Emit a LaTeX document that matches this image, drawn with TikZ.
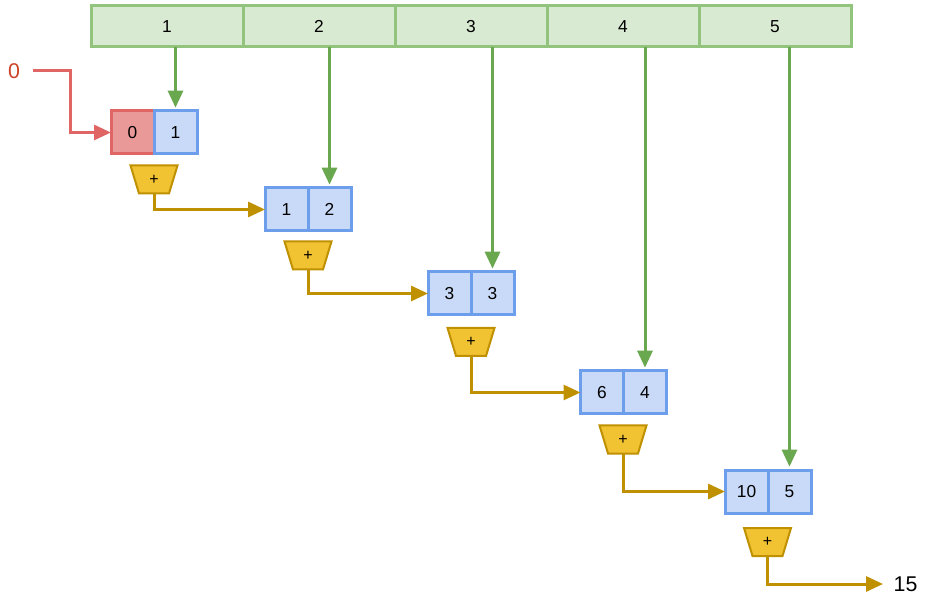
\documentclass[tikz,border=0pt]{standalone}
\usepackage{fontspec}
\setmainfont{Liberation Sans}
\usetikzlibrary{arrows.meta,shapes.geometric}

\definecolor{arrfill}{HTML}{D9EAD3}
\definecolor{arrdraw}{HTML}{93C47D}
\definecolor{feedcol}{HTML}{6AA84F}
\definecolor{blufill}{HTML}{C9DAF8}
\definecolor{bludraw}{HTML}{6D9EEB}
\definecolor{redfill}{HTML}{EA9999}
\definecolor{reddraw}{HTML}{E06666}
\definecolor{initcol}{HTML}{CC4125}
\definecolor{goldfill}{HTML}{F1C232}
\definecolor{golddraw}{HTML}{BF9000}

\tikzset{every picture/.style={line width=0.75pt}}
\tikzset{
  arrcell/.style={draw=arrdraw, fill=arrfill, line width=2.25pt, minimum width=114pt, minimum height=30.75pt, inner sep=0pt, outer sep=0pt, font=\fontsize{13}{15}\selectfont},
  blucell/.style={draw=bludraw, fill=blufill, line width=2.25pt, minimum width=32.25pt, minimum height=32.25pt, inner sep=0pt, outer sep=0pt, font=\fontsize{13}{15}\selectfont},
  redcell/.style={blucell, draw=reddraw, fill=redfill},
  adder/.style={trapezium, trapezium stretches=true, shape border rotate=180, trapezium angle=74, minimum width=35.25pt, minimum height=21pt, draw=golddraw, fill=goldfill, line width=1.5pt, inner sep=0pt, outer sep=0pt, font=\fontsize{12}{14}\selectfont},
  feed/.style={draw=feedcol, line width=2.25pt, shorten >=2.5pt, -{Triangle[length=12.75pt,width=11.25pt]}},
  sumline/.style={draw=golddraw, line width=2.25pt, -{Triangle[length=12.75pt,width=11.25pt]}},
  initline/.style={draw=reddraw, line width=2.25pt, -{Triangle[length=12.75pt,width=11.25pt]}},
  bigtext/.style={font=\fontsize{16}{19}\selectfont, inner sep=0pt}
}

\begin{document}
\begin{tikzpicture}[x=0.75pt,y=0.75pt,yscale=-1,xscale=1]
\useasboundingbox (0,0) rectangle (931,605);

%Shape: Array of inputs
\node[arrcell] (a1) at (167,26.5) {1};
\node[arrcell, anchor=west] (a2) at (a1.east) {2};
\node[arrcell, anchor=west] (a3) at (a2.east) {3};
\node[arrcell, anchor=west] (a4) at (a3.east) {4};
\node[arrcell, anchor=west] (a5) at (a4.east) {5};

%Shape: Pairs (running sum, input)
\node[redcell] (l1) at (132.5,132.5) {0};
\node[blucell, anchor=west] (r1) at (l1.east) {1};
\node[blucell] (l2) at (286.5,209.5) {1};
\node[blucell, anchor=west] (r2) at (l2.east) {2};
\node[blucell] (l3) at (449.5,293.5) {3};
\node[blucell, anchor=west] (r3) at (l3.east) {3};
\node[blucell] (l4) at (602,392.5) {6};
\node[blucell, anchor=west] (r4) at (l4.east) {4};
\node[blucell] (l5) at (746.5,491.5) {10};
\node[blucell, anchor=west] (r5) at (l5.east) {5};

%Shape: Adders
\node[adder] (p1) at (154,179.5) {+};
\node[adder] (p2) at (308,255.5) {+};
\node[adder] (p3) at (471,342) {+};
\node[adder] (p4) at (623,439.5) {+};
\node[adder] (p5) at (767.5,542) {+};

% Text Node
\node[bigtext, text=initcol] (init) at (14,71) {0};
\coordinate (initstart) at (33,71);
% Text Node
\node[bigtext] (total) at (905.5,584) {15};
\coordinate (totaltip) at (883,584);

%Straight Lines: inputs
\draw[feed] (r1.north |- a1.south) -- (r1.north);
\draw[feed] (r2.north |- a2.south) -- (r2.north);
\draw[feed] (r3.north |- a3.south) -- (r3.north);
\draw[feed] (r4.north |- a4.south) -- (r4.north);
\draw[feed] (r5.north |- a5.south) -- (r5.north);

%Straight Lines: initial value
\draw[initline] (initstart) -- ++(37,0) |- (l1.west);

%Straight Lines: sums
\draw[sumline] (p1.south) |- (l2.west);
\draw[sumline] (p2.south) |- (l3.west);
\draw[sumline] (p3.south) |- (l4.west);
\draw[sumline] (p4.south) |- (l5.west);
\draw[sumline] (p5.south) |- (totaltip);

\end{tikzpicture}
\end{document}
